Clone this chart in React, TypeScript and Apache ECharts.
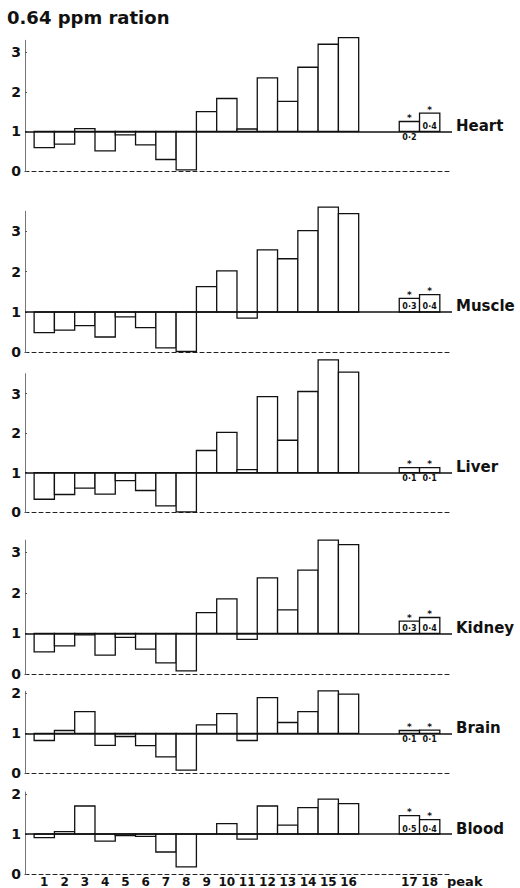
import React, { useEffect, useRef } from "react";
import * as echarts from "echarts";

// ---- data ----
const peakLabels = ["1","2","3","4","5","6","7","8","9","10","11","12","13","14","15","16","17","18"];
const tissueNames = ["Heart", "Muscle", "Liver", "Kidney", "Brain", "Blood"];

const heart = [0.59, 0.68, 1.07, 0.51, 0.91, 0.66, 0.29, 0.03, 1.50, 1.83, 1.06, 2.35, 1.76, 2.62, 3.20, 3.37, 1.25, 1.46];
const muscle = [0.49, 0.55, 0.66, 0.38, 0.88, 0.61, 0.11, 0.02, 1.63, 2.02, 0.85, 2.54, 2.32, 3.02, 3.60, 3.44, 1.34, 1.43];
const liver = [0.33, 0.45, 0.61, 0.46, 0.80, 0.55, 0.16, 0.01, 1.56, 2.02, 1.08, 2.92, 1.82, 3.05, 3.85, 3.54, 1.13, 1.13];
const kidney = [0.54, 0.69, 0.96, 0.46, 0.90, 0.61, 0.27, 0.07, 1.51, 1.85, 0.85, 2.37, 1.58, 2.56, 3.30, 3.19, 1.30, 1.39];
const brain = [0.82, 1.07, 1.54, 0.70, 0.92, 0.69, 0.41, 0.08, 1.21, 1.49, 0.82, 1.89, 1.27, 1.54, 2.06, 1.98, 1.07, 1.08];
const blood = [0.91, 1.06, 1.70, 0.82, 0.96, 0.94, 0.55, 0.18, 1.00, 1.26, 0.87, 1.70, 1.22, 1.66, 1.87, 1.76, 1.46, 1.36];

const heartSE = ["0·2", "0·4"];
const muscleSE = ["0·3", "0·4"];
const liverSE = ["0·1", "0·1"];
const kidneySE = ["0·3", "0·4"];
const brainSE = ["0·1", "0·1"];
const bloodSE = ["0·5", "0·4"];

const yTicksTall = [0, 1, 2, 3];
const yTicksShort = [0, 1, 2];
const titleText = "0.64 ppm ration";
const xName = "peak";

const panelValues = [heart, muscle, liver, kidney, brain, blood];
const panelSE = [heartSE, muscleSE, liverSE, kidneySE, brainSE, bloodSE];
const panelTicks = [yTicksTall, yTicksTall, yTicksTall, yTicksTall, yTicksShort, yTicksShort];

// ---- layout ----
const layout = [
  { max: 3.3, top: 40.3, height: 130.7 },
  { max: 3.5, top: 211.2, height: 141.1 },
  { max: 3.5, top: 373.7, height: 138.6 },
  { max: 3.3, top: 540.1, height: 133.7 },
  { max: 2.05, top: 691.3, height: 82 },
  { max: 2.05, top: 792, height: 82 },
];
const X_MIN = 0.05;
const X_MAX = 21.1;

const FONT = "DejaVu Sans";
const INK = "#111";

const slotOf = (i: number) => (i < 16 ? i + 1 : i + 3);

export default function App() {
  const ref = useRef<HTMLDivElement>(null);

  useEffect(() => {
    if (!ref.current) return;
    const chart = echarts.init(ref.current, undefined, { renderer: "svg" });

    const grids: any[] = [];
    const xAxes: any[] = [];
    const yAxes: any[] = [];
    const series: any[] = [];

    panelValues.forEach((vals, pi) => {
      const L = layout[pi];
      const isLast = pi === panelValues.length - 1;
      grids.push({ left: 25, right: 68, top: L.top, height: L.height });
      xAxes.push({
        type: "value",
        gridIndex: pi,
        min: X_MIN,
        max: X_MAX,
        axisLine: { show: true, onZero: false, lineStyle: { color: "#222", width: 1, type: [4, 3] } },
        axisTick: { show: false },
        splitLine: { show: false },
        axisLabel: isLast
          ? {
              show: true,
              customValues: peakLabels.map((_, i) => slotOf(i)),
              formatter: (v: number) => {
                const idx = v <= 16 ? v - 1 : v - 3;
                return peakLabels[idx] ?? "";
              },
              fontFamily: FONT,
              fontWeight: "bold",
              fontSize: 12,
              color: INK,
              margin: 2,
            }
          : { show: false },
      });
      yAxes.push({
        type: "value",
        gridIndex: pi,
        min: 0,
        max: L.max,
        interval: 1,
        axisLine: { show: true, lineStyle: { color: "#777", width: 1 } },
        axisTick: { show: true, inside: true, length: 2, customValues: panelTicks[pi], lineStyle: { color: "#555" } },
        splitLine: { show: false },
        axisLabel: {
          customValues: panelTicks[pi],
          fontFamily: FONT,
          fontWeight: "bold",
          fontSize: 14,
          color: INK,
          margin: 4,
          padding: [0, 0, 4, 0],
        },
      });

      const se = panelSE[pi];
      series.push({
        type: "custom",
        xAxisIndex: pi,
        yAxisIndex: pi,
        data: vals.map((v, i) => [slotOf(i), v]),
        renderItem: (params: any, api: any) => {
          const x = api.value(0);
          const v = api.value(1);
          const a = api.coord([x - 0.5, 1]);
          const b = api.coord([x + 0.5, v]);
          const yTop = Math.min(a[1], b[1]);
          const h = Math.abs(a[1] - b[1]);
          const children: any[] = [
            {
              type: "rect",
              shape: { x: a[0], y: yTop, width: b[0] - a[0], height: h },
              style: { fill: "#fff", stroke: INK, lineWidth: 1.3 },
            },
          ];
          const idx = params.dataIndex;
          if (idx >= 16) {
            const cx = (a[0] + b[0]) / 2;
            children.push({
              type: "text",
              style: {
                text: "*",
                x: cx,
                y: b[1] - 3.5,
                align: "center",
                verticalAlign: "middle",
                fontFamily: FONT,
                fontWeight: "bold",
                fontSize: 9,
                fill: INK,
              },
            });
            const inside = v - 1 >= 0.3;
            children.push({
              type: "text",
              style: {
                text: se[idx - 16],
                x: cx,
                y: inside ? a[1] - 1 : a[1] + 2,
                align: "center",
                verticalAlign: inside ? "bottom" : "top",
                fontFamily: FONT,
                fontWeight: "bold",
                fontSize: 8,
                fill: INK,
              },
            });
          }
          return { type: "group", children };
        },
        markLine: {
          silent: true,
          symbol: "none",
          data: [{ yAxis: 1 }],
          lineStyle: { color: INK, width: 1.5, type: "solid" },
          label: { show: false },
        },
      });
    });

    chart.setOption({
      animation: false,
      backgroundColor: "#fff",
      title: {
        text: titleText,
        left: 7,
        top: 8,
        padding: 0,
        textStyle: { fontFamily: FONT, fontWeight: "bold", fontSize: 18, color: INK },
      },
      grid: grids,
      xAxis: xAxes,
      yAxis: yAxes,
      series,
    });

    // tissue names: placed at the end of each panel's "1" baseline, via the chart's own scales
    const graphics: any[] = tissueNames.map((name, pi) => {
      const p = chart.convertToPixel({ gridIndex: pi } as any, [X_MAX, 1]) as number[];
      return {
        type: "text",
        x: p[0] + 4,
        y: p[1] - 5.5,
        style: {
          text: name,
          align: "left",
          verticalAlign: "middle",
          fontFamily: FONT,
          fontWeight: "bold",
          fontSize: 15,
          fill: INK,
        },
      };
    });
    const last = tissueNames.length - 1;
    const pk = chart.convertToPixel({ gridIndex: last } as any, [X_MAX, 0]) as number[];
    graphics.push({
      type: "text",
      x: pk[0] - 5,
      y: pk[1] + 7,
      style: {
        text: xName,
        align: "left",
        verticalAlign: "middle",
        fontFamily: FONT,
        fontWeight: "bold",
        fontSize: 13,
        fill: INK,
      },
    });
    chart.setOption({ graphic: graphics });

    return () => chart.dispose();
  }, []);

  return (
    <div
      ref={ref}
      style={{ position: "absolute", left: 0, top: 0, width: 520, height: 888, background: "#fff" }}
    />
  );
}
